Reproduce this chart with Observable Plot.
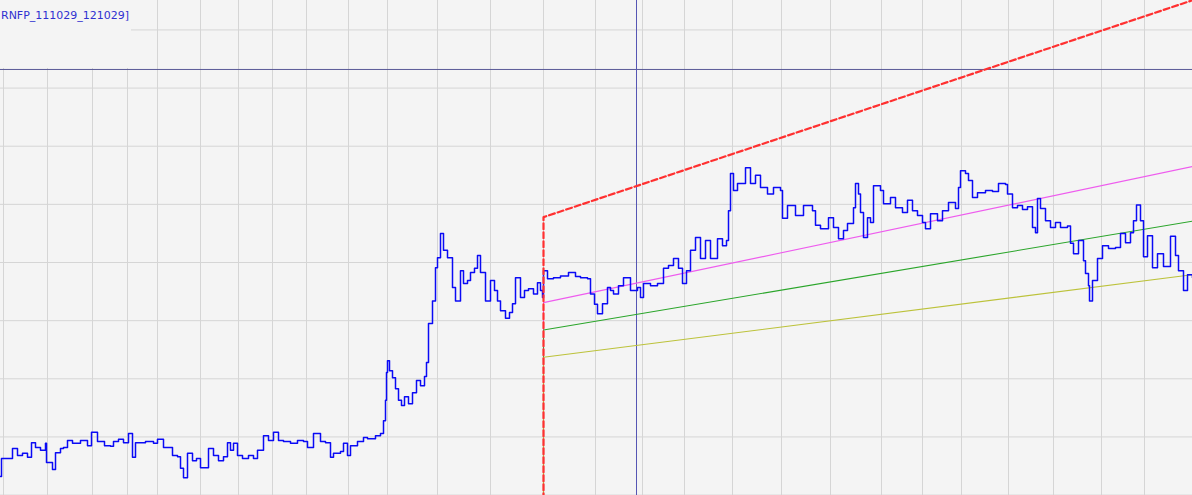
<!DOCTYPE html>
<html><head><meta charset="utf-8">
<script src="https://cdn.jsdelivr.net/npm/d3@7"></script>
<script src="https://cdn.jsdelivr.net/npm/@observablehq/plot@0.6"></script>
<style>
html,body{margin:0;padding:0;background:#f4f4f4;}
#wrap{position:relative;width:1192px;height:495px;overflow:hidden;}
#title{position:absolute;left:0;top:0;width:131px;height:68px;background:#f4f4f4;}
#title span{position:absolute;left:1px;top:10px;line-height:11px;font-family:"DejaVu Sans";font-size:11px;color:#3030d0;white-space:nowrap;}
</style></head><body>
<div id="wrap"><div id="chart"></div><div id="title"><span id="ttl"></span></div></div>
<script>
const titleText = "RNFP_111029_121029]";

// price series (bar index, price in grid units)
const bars = [
0,1,10,12,17,22,27,31,35,40,
45,46,52,55,60,63,67,72,80,87,
91,97,104,110,113,118,123,128,132,135,
145,153,157,163,167,172,177,180,183,187,
192,196,200,208,213,218,223,227,230,233,
237,242,248,253,257,263,268,273,278,283,
290,297,303,307,313,320,325,330,333,340,
343,347,350,357,363,367,375,380,383,385,
386,387,389,392,395,398,401,404,408,412,
416,420,424,426,428,432,435,437,440,443,
447,452,455,458,460,463,467,470,474,477,
480,485,490,494,497,500,505,509,512,515,
520,524,528,533,537,540,542,543,547,553,
560,568,575,580,587,590,594,597,602,607,
610,613,618,623,630,637,640,643,650,657,
663,668,673,678,682,686,690,695,700,705,
710,717,722,726,728,730,733,737,740,745,
750,755,760,767,773,780,782,787,795,803,
812,815,820,828,833,838,843,847,853,855,
858,860,863,867,870,873,880,883,890,895,
902,907,912,917,922,925,930,937,942,948,
955,958,960,965,968,972,977,985,992,998,
1005,1007,1012,1017,1022,1027,1032,1035,1037,1040,
1045,1050,1055,1060,1067,1070,1073,1078,1083,1085,
1088,1089,1092,1097,1102,1108,1115,1120,1125,1130,
1133,1136,1140,1143,1147,1152,1157,1163,1170,1175,
1178,1183,1187,1192];
const prices = [
0.32,0.63,0.63,0.80,0.68,0.72,0.65,0.90,0.82,0.77,
0.89,0.56,0.44,0.73,0.80,0.82,0.94,0.89,0.94,0.85,
1.08,0.92,0.85,0.84,0.92,0.96,0.90,1.06,0.65,0.90,
0.92,0.89,0.96,0.82,0.82,0.68,0.66,0.46,0.30,0.72,
0.59,0.63,0.47,0.80,0.68,0.59,0.66,0.90,0.77,0.89,
0.68,0.63,0.68,0.63,0.77,1.02,0.94,1.08,0.94,0.92,
0.89,0.94,0.92,0.82,1.06,0.92,0.90,0.65,0.72,0.75,
0.89,0.68,0.85,0.92,0.99,0.97,1.02,1.06,1.28,1.63,
2.11,2.31,2.14,2.02,1.83,1.63,1.54,1.69,1.57,1.76,
1.97,1.88,2.04,2.28,2.95,3.34,3.91,4.08,4.50,4.21,
4.08,3.57,3.34,3.34,3.86,3.64,3.69,3.83,3.90,4.12,
3.83,3.34,3.69,3.52,3.34,3.17,3.04,3.14,3.29,3.74,
3.40,3.52,3.55,3.46,3.65,3.52,3.40,3.86,3.72,3.74,
3.77,3.83,3.76,3.74,3.72,3.46,3.28,3.12,3.29,3.57,
3.52,3.46,3.60,3.74,3.52,3.57,3.40,3.64,3.60,3.64,
3.90,3.95,4.07,3.90,3.64,3.86,4.21,4.43,4.07,4.38,
4.07,4.41,4.29,4.38,4.89,5.53,5.24,5.36,5.36,5.63,
5.36,5.50,5.29,5.18,5.29,5.24,4.76,4.98,4.81,4.98,
4.89,4.64,4.58,4.77,4.60,4.41,4.55,4.67,4.94,5.36,
5.18,4.86,4.43,4.77,4.69,5.32,5.24,5.01,5.12,4.94,
4.86,5.07,4.89,4.81,4.69,4.58,4.84,4.72,4.89,5.03,
4.93,5.29,5.58,5.53,5.41,5.12,5.20,5.24,5.22,5.36,
5.34,5.18,4.94,4.98,4.91,4.96,4.60,4.51,5.10,4.93,
4.72,4.60,4.69,4.60,4.63,4.33,4.15,4.38,4.03,3.81,
3.60,3.34,3.69,4.07,4.29,4.24,4.26,4.50,4.34,4.51,
4.72,4.99,4.72,4.10,4.46,3.91,4.15,3.93,4.45,4.12,
3.86,3.52,3.79,3.74];

// grid
const xGridBars = [3,47,92,127,157,200,238,272,306,348,387,437,490,543,595,642,684,732,781,830,881,922,961,1008,1053,1101,1144];
const yGridLevels = [0,1,2,3,4,5,6,7,8];

// channel lines (drawn in this order)
const channelNames = ["magenta","green","olive","red"];
const channelColors = ["#ee5cee","#2aa52a","#bcc23a","#ff3030"];
const channelStart = [3.31, 2.84, 2.37, 4.78];
const channelEnd = [5.65, 4.71, 3.79, 8.51];
const channelStartBar = 543;
const channelEndBar = 1192;
const offChartLevel = -1;

// markers
const cursorBar = 636;
const sessionLevel = 7.32;

document.getElementById("ttl").textContent = titleText;

const priceData = bars.map((b, i) => ({bar: b, price: prices[i]}));
const channelMarks = channelNames.map((name, i) => {
  const pts = [
    {bar: channelStartBar, v: offChartLevel},
    {bar: channelStartBar, v: channelStart[i]},
    {bar: channelEndBar, v: channelEnd[i]}
  ];
  return Plot.line(pts, {
    x: "bar", y: "v", stroke: channelColors[i],
    strokeWidth: name === "red" ? 2.2 : 1.1,
    strokeDasharray: name === "red" ? "6,3" : null,
    clip: true
  });
});

const chart = Plot.plot({
  width: 1192, height: 495, margin: 0,
  x: {domain: [0, 1192], axis: null},
  y: {domain: [-0.007, 8.506], axis: null},
  style: {background: "#f4f4f4"},
  marks: [
    Plot.ruleX(xGridBars, {stroke: "#d5d5d5", strokeWidth: 1}),
    Plot.ruleY(yGridLevels, {stroke: "#d5d5d5", strokeWidth: 1}),
    Plot.ruleY([sessionLevel], {stroke: "#585896", strokeWidth: 1}),
    Plot.ruleX([cursorBar], {stroke: "#5656b4", strokeWidth: 1}),
    ...channelMarks.slice(0, 3),
    Plot.line(priceData, {x: "bar", y: "price", stroke: "#0a0af5", strokeWidth: 1.5, curve: "step-after", clip: true}),
    channelMarks[3]
  ]
});
document.getElementById("chart").appendChild(chart);
</script>
</body></html>
